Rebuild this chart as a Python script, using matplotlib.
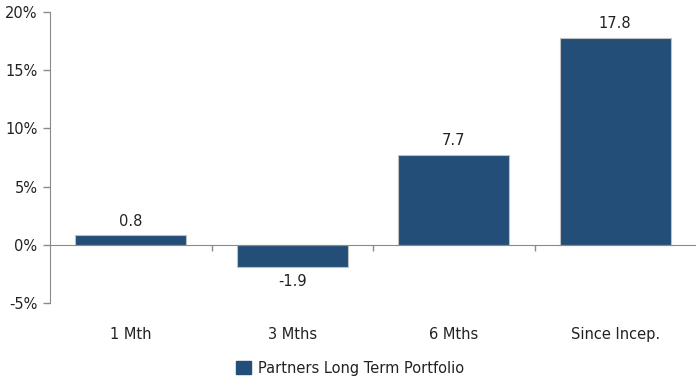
# Recreate performance bar chart for Partners Long Term Portfolio

import matplotlib.pyplot as plt
import numpy as np
from matplotlib.patches import Patch
from matplotlib.transforms import blended_transform_factory

categories = ["1 Mth", "3 Mths", "6 Mths", "Since Incep."]
returns = [0.8, -1.9, 7.7, 17.8]
y_ticks = [-5, 0, 5, 10, 15, 20]
series_name = "Partners Long Term Portfolio"

BAR_COLOR = "#234e78"
AXIS_COLOR = "#8a8a8a"
TEXT_COLOR = "#222222"
FS = 10.5


def main():
    fig = plt.figure(figsize=(6.96, 3.81), dpi=100)
    ax = fig.add_axes([50 / 696, 1 - 303 / 381, 646 / 696, 291 / 381])

    x = np.arange(len(categories))
    bars = ax.bar(x, returns, width=0.69, color=BAR_COLOR,
                  edgecolor="#c0c0c0", linewidth=0.8, zorder=2)

    # Value labels above positive bars, below negative ones
    for bar, val in zip(bars, returns):
        cx = bar.get_x() + bar.get_width() / 2
        if val >= 0:
            ax.annotate(f"{val:.1f}", (cx, val), xytext=(0, 5),
                        textcoords="offset points", ha="center", va="bottom",
                        fontsize=FS, color=TEXT_COLOR)
        else:
            ax.annotate(f"{val:.1f}", (cx, val), xytext=(0, -5),
                        textcoords="offset points", ha="center", va="top",
                        fontsize=FS, color=TEXT_COLOR)

    ax.set_xlim(-0.5, len(categories) - 0.5)
    ax.set_ylim(-5, 20)

    # Y axis
    ax.set_yticks(y_ticks)
    ax.set_yticklabels([f"{t}%" for t in y_ticks])
    ax.tick_params(axis="y", length=5, width=1, color=AXIS_COLOR,
                   labelsize=FS, labelcolor=TEXT_COLOR, pad=4)

    # X axis line at zero, ticks between categories
    ax.spines["bottom"].set_position(("data", 0))
    ax.spines["bottom"].set_color(AXIS_COLOR)
    ax.spines["left"].set_color(AXIS_COLOR)
    ax.spines["top"].set_visible(False)
    ax.spines["right"].set_visible(False)
    ax.set_xticks(x[:-1] + 0.5)
    ax.set_xticklabels([])
    ax.tick_params(axis="x", length=4, width=1, color=AXIS_COLOR)

    # Category labels below the plot area
    trans = blended_transform_factory(ax.transData, ax.transAxes)
    for xi, name in zip(x, categories):
        ax.text(xi, -0.107, name, transform=trans, ha="center", va="center",
                fontsize=FS, color=TEXT_COLOR)

    handle = Patch(facecolor=BAR_COLOR, edgecolor=BAR_COLOR)
    fig.legend([handle], [series_name], loc="center",
               bbox_to_anchor=(350 / 696, 1 - 368 / 381), frameon=False,
               fontsize=FS, handlelength=1.05, handleheight=1.05,
               handletextpad=0.5, labelcolor=TEXT_COLOR)

    fig.savefig("out.png", dpi=100)


if __name__ == "__main__":
    main()
